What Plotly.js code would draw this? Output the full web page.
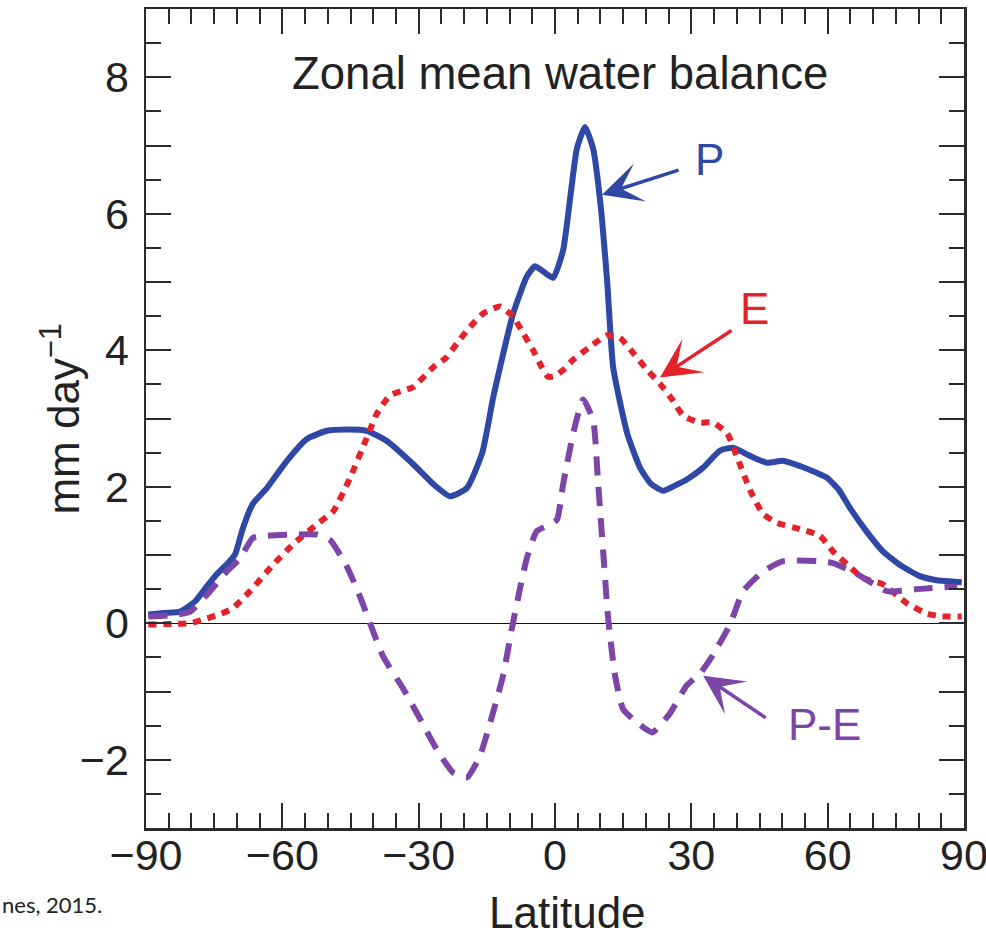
<!DOCTYPE html>
<html>
<head>
<meta charset="utf-8">
<script src="https://cdn.plot.ly/plotly-3.0.1.min.js"></script>
<style>
  html, body { margin: 0; padding: 0; background: #ffffff; }
  #chart { width: 986px; height: 928px; }
</style>
</head>
<body>
<div id="chart"></div>
<script>
// Precipitation P (mm/day) by latitude
const latP = [-89.5, -86, -82.5, -79.2, -76.5, -74.8, -72, -70.4, -68.7, -66.5, -63.4, -59, -54.6, -50.2, -46, -41.4, -37, -31.2, -26.8, -23.1, -19.4, -16, -13.6, -12.1, -9.2, -6.2, -4.4, -2.5, -0.4, 1.8, 3.3, 4.8, 6.6, 8.4, 9.9, 11.5, 12.8, 15.9, 18.7, 21, 23.8, 26.5, 29.1, 32.6, 36.3, 39.2, 43, 46.7, 50.2, 54, 57.7, 59.9, 62.5, 64.9, 68.5, 72.2, 76, 80.3, 84, 89.5];
const valP = [0.13, 0.15, 0.17, 0.32, 0.55, 0.69, 0.88, 1.01, 1.39, 1.75, 1.98, 2.38, 2.70, 2.82, 2.84, 2.82, 2.67, 2.33, 2.04, 1.86, 1.98, 2.50, 3.31, 3.75, 4.54, 5.08, 5.23, 5.15, 5.06, 5.47, 6.21, 6.95, 7.27, 6.95, 6.21, 4.99, 3.75, 2.78, 2.28, 2.05, 1.94, 2.02, 2.11, 2.28, 2.53, 2.57, 2.45, 2.35, 2.38, 2.30, 2.20, 2.13, 1.95, 1.69, 1.35, 1.05, 0.85, 0.69, 0.63, 0.60];

// Evaporation E (mm/day) by latitude
const latE = [-89.5, -84, -80.3, -76.6, -73.5, -70.9, -67.1, -62.0, -57.6, -52.4, -48.8, -45.1, -41.4, -39.2, -36.3, -33, -31.2, -26.8, -23.8, -21.6, -18.7, -15.8, -12.1, -9.2, -7.0, -4.8, -2.9, -1.5, 0, 1.8, 4.0, 7.7, 11.5, 14.3, 17.2, 20.3, 23.1, 26.0, 28.2, 31.9, 34.8, 37.9, 40.1, 43.0, 45.8, 48.9, 53.9, 58.3, 61.2, 64.3, 67.8, 72.2, 77.5, 81.9, 85, 89.5];
const valE = [-0.02, -0.01, 0.00, 0.07, 0.14, 0.22, 0.47, 0.86, 1.16, 1.45, 1.64, 2.13, 2.72, 3.07, 3.34, 3.42, 3.46, 3.75, 3.90, 4.10, 4.34, 4.54, 4.64, 4.49, 4.25, 4.00, 3.75, 3.61, 3.62, 3.71, 3.86, 4.05, 4.22, 4.18, 3.96, 3.71, 3.51, 3.26, 3.04, 2.94, 2.94, 2.78, 2.43, 1.94, 1.60, 1.47, 1.38, 1.28, 1.05, 0.86, 0.66, 0.57, 0.29, 0.14, 0.10, 0.10];

// P - E (mm/day) by latitude
const latPE = [-89.5, -84, -80.3, -75.9, -72.2, -69.3, -66.5, -63.4, -57.6, -52.4, -49.5, -45.8, -42.9, -40.7, -37.8, -33.4, -29.7, -26.0, -22.4, -19.4, -16.5, -13.6, -11.4, -9.5, -7.7, -6.2, -4.0, -1, 0.45, 1.8, 4.0, 6.2, 8.4, 9.5, 10.6, 11.7, 13.2, 15.0, 18.7, 21.4, 25.3, 29.0, 31.9, 34.8, 38.5, 41.4, 45.8, 50.2, 57.7, 61.2, 66.5, 73.1, 79.7, 88.5];
const valPE = [0.10, 0.12, 0.17, 0.47, 0.76, 0.95, 1.25, 1.28, 1.30, 1.30, 1.22, 0.83, 0.39, 0.00, -0.49, -0.96, -1.40, -1.85, -2.19, -2.26, -1.94, -1.30, -0.76, -0.08, 0.51, 0.95, 1.35, 1.45, 1.52, 2.04, 2.78, 3.28, 2.97, 2.04, 1.05, 0.07, -0.76, -1.26, -1.49, -1.60, -1.32, -0.91, -0.74, -0.46, -0.02, 0.47, 0.76, 0.91, 0.91, 0.88, 0.72, 0.47, 0.50, 0.54];

// Axis ticks
const xTickVals = [-90, -60, -30, 0, 30, 60, 90];
const xTickText = ['\u221290', '\u221260', '\u221230', '0', '30', '60', '90'];
const yTickVals = [-3, -2, -1, 0, 1, 2, 3, 4, 5, 6, 7, 8];
const yTickText = ['', '\u22122', '', '0', '', '2', '', '4', '', '6', '', '8'];

const FONT = 'Liberation Sans, Arial, Helvetica, sans-serif';
const AX = '#2b2b2b';

const traces = [
  { x: latP, y: valP, type: 'scatter', mode: 'lines', name: 'P',
    line: { color: '#2f48a6', width: 6, shape: 'spline', smoothing: 0.5 } },
  { x: latE, y: valE, type: 'scatter', mode: 'lines', name: 'E',
    line: { color: '#e4222a', width: 6, dash: '8px,7px', shape: 'spline', smoothing: 0.5 } },
  { x: latPE, y: valPE, type: 'scatter', mode: 'lines', name: 'P-E',
    line: { color: '#7d45a8', width: 6, dash: '19px,12px', shape: 'spline', smoothing: 0.5 } }
];

const layout = {
  width: 986, height: 928,
  margin: { l: 146, r: 22, t: 9, b: 100, pad: 0 },
  paper_bgcolor: '#ffffff', plot_bgcolor: '#ffffff',
  showlegend: false,
  font: { family: FONT, color: '#222222' },
  xaxis: {
    range: [-90, 90], tickmode: 'array', tickvals: xTickVals, ticktext: xTickText,
    ticks: 'inside', ticklen: 25, tickwidth: 2, tickcolor: AX,
    showline: true, linewidth: 2.5, linecolor: AX, mirror: 'ticks',
    showgrid: false, zeroline: false, ticklabeloverflow: 'allow', ticklabelstandoff: -12,
    tickfont: { family: FONT, size: 43, color: '#222222' },
    minor: { dtick: 5, tick0: -90, ticks: 'inside', ticklen: 15, tickwidth: 2, tickcolor: AX, showgrid: false }
  },
  yaxis: {
    range: [-3, 9], tickmode: 'array', tickvals: yTickVals, ticktext: yTickText,
    ticks: 'inside', ticklen: 25, tickwidth: 2, tickcolor: AX,
    showline: true, linewidth: 2.5, linecolor: AX, mirror: 'ticks',
    showgrid: false, zeroline: true, zerolinecolor: '#111111', zerolinewidth: 1.5,
    ticklabelstandoff: 6,
    tickfont: { family: FONT, size: 43, color: '#222222' },
    minor: { dtick: 0.5, tick0: 0, ticks: 'inside', ticklen: 15, tickwidth: 2, tickcolor: AX, showgrid: false }
  },
  annotations: [
    { text: 'Zonal mean water balance', xref: 'paper', yref: 'paper', x: 0.506, y: 0.921,
      xanchor: 'center', yanchor: 'middle', showarrow: false,
      font: { family: FONT, size: 45.5, color: '#222222' } },
    { text: 'mm day<sup>\u22121</sup>', xref: 'paper', yref: 'paper', x: -0.105, y: 0.5,
      xanchor: 'center', yanchor: 'middle', showarrow: false, textangle: -90,
      font: { family: FONT, size: 44, color: '#222222' } },
    { text: 'Latitude', xref: 'paper', yref: 'paper', x: 0.515, y: -0.071,
      xanchor: 'center', yanchor: 'top', showarrow: false,
      font: { family: FONT, size: 44, color: '#222222' } },
    { text: 'nes, 2015.', xref: 'paper', yref: 'paper', x: -0.178, y: -0.075,
      xanchor: 'left', yanchor: 'top', showarrow: false,
      font: { family: 'Lato, Open Sans, sans-serif', size: 22, color: '#222222' } },
    // arrows
    { text: '', x: 10.35, y: 6.28, xref: 'x', yref: 'y', ax: 78, ay: -25, showarrow: true,
      arrowhead: 3, arrowsize: 1.9, arrowwidth: 3.5, arrowcolor: '#2f48a6' },
    { text: 'P', x: 34.1, y: 6.8, xref: 'x', yref: 'y', showarrow: false,
      font: { family: FONT, size: 44, color: '#2f48a6' } },
    { text: '', x: 23.1, y: 3.60, xref: 'x', yref: 'y', ax: 73, ay: -48, showarrow: true,
      arrowhead: 3, arrowsize: 1.9, arrowwidth: 3.5, arrowcolor: '#e4222a' },
    { text: 'E', x: 44.0, y: 4.61, xref: 'x', yref: 'y', showarrow: false,
      font: { family: FONT, size: 44, color: '#e4222a' } },
    { text: '', x: 32.6, y: -0.77, xref: 'x', yref: 'y', ax: 64, ay: 43, showarrow: true,
      arrowhead: 3, arrowsize: 1.9, arrowwidth: 3.5, arrowcolor: '#7d45a8' },
    { text: 'P-E', x: 59.4, y: -1.48, xref: 'x', yref: 'y', showarrow: false,
      font: { family: FONT, size: 44, color: '#7d45a8' } }
  ]
};

Plotly.newPlot('chart', traces, layout, { displayModeBar: false, staticPlot: true });
</script>
</body>
</html>
